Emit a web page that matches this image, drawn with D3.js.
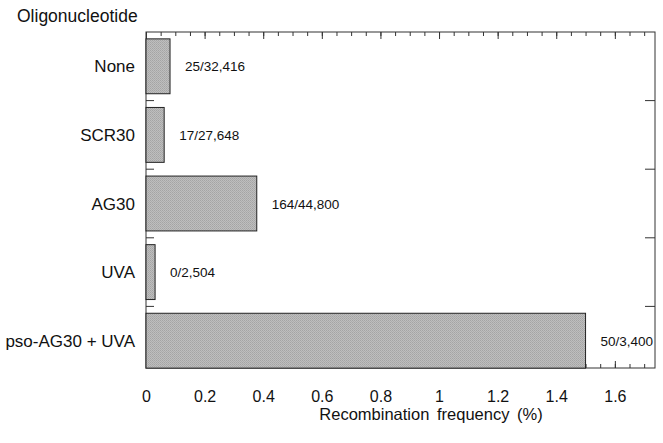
<!DOCTYPE html>
<html>
<head>
<meta charset="utf-8">
<script src="https://cdn.jsdelivr.net/npm/d3@7"></script>
<style>
  body { margin: 0; background: #fff; }
  svg text { font-family: "Liberation Sans", Arial, Helvetica, sans-serif; fill: #111; }
</style>
</head>
<body>
<svg id="chart" width="663" height="443"></svg>
<script>
// data
var categories = ['None', 'SCR30', 'AG30', 'UVA', 'pso-AG30 + UVA'];
var frequency = [0.082, 0.062, 0.378, 0.031, 1.5];
var counts = ['25/32,416', '17/27,648', '164/44,800', '0/2,504', '50/3,400'];
var tickLabels = [0, 0.2, 0.4, 0.6, 0.8, 1, 1.2, 1.4, 1.6];

var svg = d3.select('#chart');
// frame edges (note: "top" is reserved on window, so use plotTop)
var plotLeft = 146, plotRight = 655, plotTop = 32, plotBottom = 368;

var x = d3.scaleLinear().domain([0, 1.737]).range([plotLeft, plotRight]);
var y = d3.scaleBand().domain(categories).range([plotTop, 375])
  .paddingInner(0.2).paddingOuter(0.1);

// stippled fill
var defs = svg.append('defs');
var pat = defs.append('pattern').attr('id', 'stipple')
  .attr('patternUnits', 'userSpaceOnUse').attr('width', 2).attr('height', 2);
pat.append('rect').attr('width', 2).attr('height', 2).attr('fill', '#bebebe');
pat.append('rect').attr('width', 1).attr('height', 1).attr('fill', '#a4a4a4');
pat.append('rect').attr('x', 1).attr('y', 1).attr('width', 1).attr('height', 1).attr('fill', '#acacac');

// frame
svg.append('rect').attr('x', plotLeft).attr('y', plotTop)
  .attr('width', plotRight - plotLeft).attr('height', plotBottom - plotTop)
  .attr('fill', 'none').attr('stroke', '#333').attr('stroke-width', 1);

var minor = d3.range(0, 1.7251, 0.05);

// bottom and top axes, ticks pointing in
var bottomMinor = svg.append('g').attr('transform', 'translate(0,' + plotBottom + ')')
  .call(d3.axisBottom(x).tickValues(minor).tickSize(-4).tickFormat(''));
var bottomMajor = svg.append('g').attr('transform', 'translate(0,' + plotBottom + ')')
  .call(d3.axisBottom(x).tickValues(tickLabels).tickSize(-7).tickPadding(23)
    .tickFormat(function(d) { return d3.format('')(d); }));
var topMinor = svg.append('g').attr('transform', 'translate(0,' + plotTop + ')')
  .call(d3.axisTop(x).tickValues(minor).tickSize(-4).tickFormat(''));
var topMajor = svg.append('g').attr('transform', 'translate(0,' + plotTop + ')')
  .call(d3.axisTop(x).tickValues(tickLabels).tickSize(-7).tickFormat(''));

[bottomMinor, bottomMajor, topMinor, topMajor].forEach(function(g) {
  g.select('.domain').remove();
  g.selectAll('line').attr('stroke', '#333');
});
bottomMajor.selectAll('text').attr('font-size', 16).attr('fill', '#111')
  .style('font-family', '"Liberation Sans", Arial, sans-serif');

// separators between categories on left and right
var seps = categories.slice(0, -1).map(function(c) {
  return y(c) + y.bandwidth() + y.step() * y.paddingInner() / 2;
});
svg.append('g').selectAll('line').data(seps).join('line')
  .attr('x1', plotLeft).attr('x2', plotLeft + 8)
  .attr('y1', function(d) { return d; }).attr('y2', function(d) { return d; })
  .attr('stroke', '#333');
svg.append('g').selectAll('line').data(seps).join('line')
  .attr('x1', plotRight - 10).attr('x2', plotRight)
  .attr('y1', function(d) { return d; }).attr('y2', function(d) { return d; })
  .attr('stroke', '#333');

// bars
svg.append('g').selectAll('rect').data(categories).join('rect')
  .attr('x', x(0))
  .attr('y', function(d) { return y(d); })
  .attr('width', function(d, i) { return x(frequency[i]) - x(0); })
  .attr('height', y.bandwidth())
  .attr('fill', 'url(#stipple)')
  .attr('stroke', '#222').attr('stroke-width', 1);

// count labels
svg.append('g').selectAll('text').data(categories).join('text')
  .attr('x', function(d, i) { return x(frequency[i]) + 15; })
  .attr('y', function(d) { return y(d) + y.bandwidth() / 2; })
  .attr('dy', '0.38em')
  .attr('font-size', 13.5)
  .text(function(d, i) { return counts[i]; });

// category labels
svg.append('g').selectAll('text').data(categories).join('text')
  .attr('x', 135)
  .attr('y', function(d) { return y(d) + y.bandwidth() / 2; })
  .attr('dy', '0.36em')
  .attr('text-anchor', 'end')
  .attr('font-size', 17)
  .text(function(d) { return d; });

svg.append('text').attr('x', 17).attr('y', 22)
  .attr('font-size', 17.5).text('Oligonucleotide');

svg.append('text').attr('x', 431).attr('y', 420)
  .attr('text-anchor', 'middle').attr('font-size', 16.5)
  .style('word-spacing', '3px')
  .text('Recombination frequency (%)');
</script>
</body>
</html>
